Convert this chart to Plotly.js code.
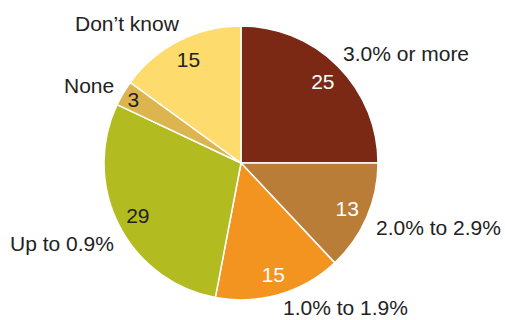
<!DOCTYPE html>
<html>
<head>
<meta charset="utf-8">
<script src="https://cdn.plot.ly/plotly-3.0.1.min.js"></script>
<style>html,body{margin:0;padding:0;background:#fff}#chart{width:505px;height:320px}</style>
</head>
<body>
<div id="chart"></div>
<script>
const categories = ["3.0% or more", "2.0% to 2.9%", "1.0% to 1.9%", "Up to 0.9%", "None", "Don\u2019t know"];
const values = [25, 13, 15, 29, 3, 15];
const colors = ["#7B2815", "#B97D37", "#F39320", "#B2BB1F", "#DDB54E", "#FDDB6C"];
const valueTextColors = ["#ffffff", "#ffffff", "#ffffff", "#222222", "#222222", "#222222"];
// label anchor positions (pixels in 505x320 frame)
const labelPos = [[406, 54], [438, 227], [345, 307], [62, 243], [89, 85], [127, 23]];

const W = 505, H = 320;
const FONT = "Liberation Sans, Arial, sans-serif";
const cx = 241, cy = 163, R = 137;
const domain = {x: [(cx - R) / W, (cx + R) / W], y: [(H - cy - R) / H, (H - cy + R) / H]};

const pie = {
  type: "pie",
  labels: categories,
  values: values,
  sort: false,
  direction: "clockwise",
  rotation: 0,
  marker: {colors: colors, line: {color: "#ffffff", width: 1.5}},
  textinfo: "none",
  hoverinfo: "none",
  showlegend: false,
  domain: domain
};

// transparent ring over the pie, used only to place the value numbers near the rim
const valueRing = {
  type: "pie",
  labels: categories,
  values: values,
  sort: false,
  direction: "clockwise",
  rotation: 0,
  hole: 0.69,
  marker: {colors: values.map(() => "rgba(0,0,0,0)"), line: {width: 0}},
  texttemplate: "%{value}",
  textposition: "inside",
  insidetextorientation: "horizontal",
  insidetextfont: {family: FONT, size: 21, color: valueTextColors},
  hoverinfo: "none",
  showlegend: false,
  domain: domain
};

const annotations = categories.map((c, i) => ({
  text: c,
  x: labelPos[i][0] / W,
  y: 1 - labelPos[i][1] / H,
  xref: "paper", yref: "paper",
  xanchor: "center", yanchor: "middle",
  showarrow: false,
  font: {family: FONT, size: 21, color: "#222222"}
}));

Plotly.newPlot("chart", [pie, valueRing], {
  width: W, height: H,
  margin: {l: 0, r: 0, t: 0, b: 0},
  paper_bgcolor: "#ffffff",
  uniformtext: {minsize: 21, mode: "show"},
  annotations: annotations
}, {staticPlot: true});
</script>
</body>
</html>
